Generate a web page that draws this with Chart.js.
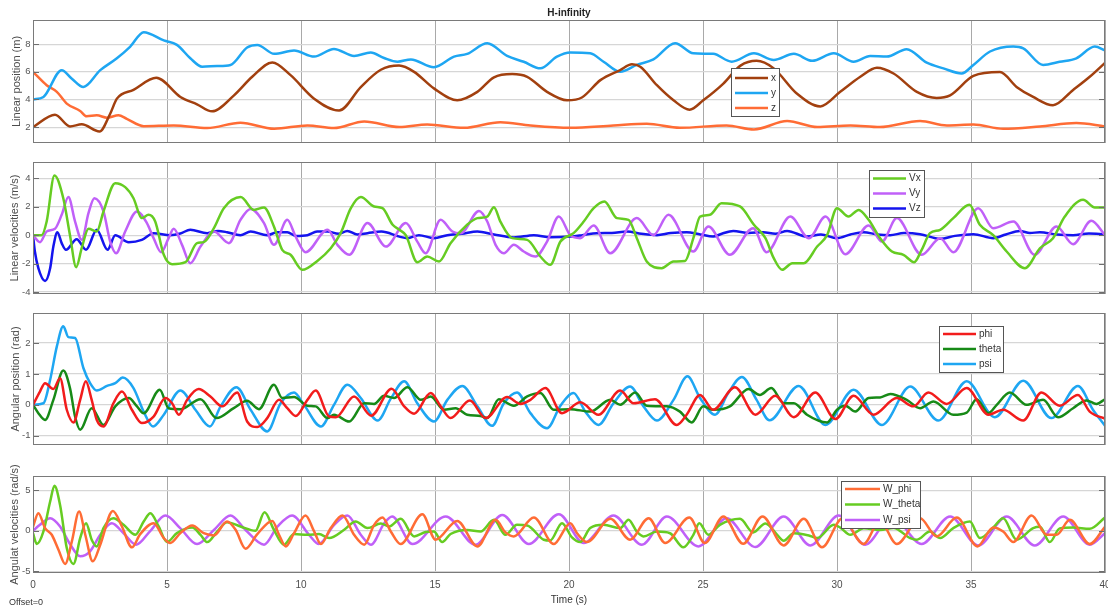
<!DOCTYPE html>
<html><head><meta charset="utf-8">
<script src="https://cdn.jsdelivr.net/npm/chart.js@4.4.1/dist/chart.umd.min.js"></script>
<style>
html,body{margin:0;padding:0;background:#fff;}
#wrap{position:relative;width:1108px;height:610px;overflow:hidden;font-family:"Liberation Sans",Arial,Helvetica,sans-serif;}
#wrap canvas{position:absolute;left:0;top:0;width:1108px;height:610px;}
#title{position:absolute;top:7px;left:0;width:1138px;text-align:center;font-weight:bold;font-size:10px;line-height:12px;color:#222;}
#offset{position:absolute;left:9px;top:597px;font-size:9px;line-height:11px;color:#333;}
</style></head>
<body><div id="wrap">
<canvas id="c1" width="1108" height="610"></canvas>
<canvas id="c2" width="1108" height="610"></canvas>
<canvas id="c3" width="1108" height="610"></canvas>
<canvas id="c4" width="1108" height="610"></canvas>
<div id="title">H-infinity</div>
<div id="offset">Offset=0</div>
</div>
<script>
// ---------- tick labels ----------
const T_TICKS = [0,5,10,15,20,25,30,35,40];
const Y1_TICKS = [2,4,6,8];
const Y2_TICKS = [-4,-2,0,2,4];
const Y3_TICKS = [-1,0,1,2];
const Y4_TICKS = [-5,0,5];

// ---------- panel 1: linear position (t, value) ----------
const posX = [[0,2.0],[0.82,2.9],[1.38,2.05],[1.82,2.2],[2.48,1.68],[2.88,2.97],[3.13,4.06],[3.75,4.7],[4.6,5.57],[5.5,4.18],[6.12,3.65],[6.68,3.14],[7.5,4.3],[8.18,5.64],[8.93,6.68],[9.61,5.76],[10.49,4.06],[11.42,3.2],[12.23,4.9],[12.98,6.15],[13.66,6.45],[14.22,6.0],[14.96,4.8],[15.83,3.94],[16.58,4.55],[17.2,5.6],[17.88,5.84],[18.44,5.64],[19.18,4.55],[19.93,3.94],[20.48,4.14],[21.17,5.4],[21.91,6.13],[22.35,6.54],[22.66,6.37],[23.28,5.03],[23.9,3.94],[24.5,3.26],[25.01,3.94],[25.76,5.15],[26.4,6.45],[27.0,6.8],[27.64,6.25],[28.5,4.43],[29.38,3.5],[30.12,4.55],[30.87,5.64],[31.49,6.3],[32.11,5.88],[32.98,4.55],[33.72,4.11],[34.22,4.3],[35.09,5.7],[36.08,5.98],[36.7,4.91],[37.32,4.18],[38.06,3.58],[38.8,4.67],[39.43,5.64],[40,6.65]];
const posY = [[0,4.0],[0.39,4.18],[1.07,6.12],[1.45,5.5],[1.88,4.9],[2.51,6.12],[3.13,6.98],[3.63,7.83],[4.13,8.87],[4.88,8.27],[5.37,7.95],[5.87,6.98],[6.31,6.37],[6.87,6.42],[7.37,6.5],[7.99,7.76],[8.37,7.95],[9.0,7.3],[9.74,7.54],[10.49,7.1],[11.23,7.66],[11.98,7.15],[12.6,7.4],[13.1,7.0],[13.6,6.73],[14.1,6.9],[14.96,6.33],[15.71,7.1],[16.2,7.3],[16.95,8.07],[17.69,7.15],[18.31,6.73],[18.93,6.25],[19.55,7.1],[20.05,7.4],[20.79,7.34],[21.29,6.73],[21.91,6.0],[22.53,6.5],[23.15,6.9],[23.96,8.07],[24.64,7.34],[25.38,7.3],[26.07,6.73],[26.9,7.34],[27.64,6.86],[28.39,7.3],[29.07,6.8],[29.88,7.34],[30.62,6.73],[31.24,7.15],[31.86,7.1],[32.6,7.64],[33.35,6.66],[33.97,6.25],[34.65,5.88],[35.09,6.5],[35.71,7.47],[36.58,7.83],[36.95,7.7],[37.69,6.5],[38.31,6.73],[38.93,6.98],[39.62,7.83],[40,7.55]];
const posZ = [[0,6.0],[0.51,5.03],[0.89,4.55],[1.26,3.7],[1.76,3.17],[2.0,2.78],[2.38,2.85],[2.76,2.68],[3.19,2.85],[3.5,2.6],[4.13,2.07],[5.25,2.12],[6.5,1.93],[7.74,2.32],[9.0,1.88],[10.24,2.12],[11.23,1.93],[12.36,2.41],[13.67,2.0],[14.71,2.19],[16.08,1.95],[17.44,2.36],[18.56,2.12],[20.05,1.95],[21.66,2.12],[22.9,2.24],[24.14,1.95],[25.88,2.12],[26.9,1.83],[28.14,2.44],[29.26,2.0],[30.5,2.12],[31.6,2.0],[33.1,2.44],[34.1,2.12],[35.09,2.19],[36.2,1.88],[37.57,2.05],[38.93,2.29],[40,2.05]];

// ---------- panel 2: linear velocities ----------
const velX = [[0,0],[0.32,0],[0.51,0.96],[0.8,4.2],[1.13,2.6],[1.38,0],[1.61,-2.25],[1.82,-0.9],[2.07,0.45],[2.38,0.26],[2.63,1.67],[3.07,3.66],[3.44,3.38],[3.75,2.6],[4.06,1.2],[4.31,1.43],[4.56,0.96],[4.88,-1.38],[5.19,-2.04],[5.69,-1.9],[6.12,-0.56],[6.37,-0.49],[6.75,0.49],[7.12,1.9],[7.75,2.68],[8.24,1.78],[8.62,1.95],[8.99,0.61],[9.3,-1.03],[9.61,-1.38],[10.05,-2.44],[10.61,-1.81],[11.11,-0.92],[11.48,0.14],[11.86,1.9],[12.23,2.68],[12.73,2.02],[13.04,1.9],[13.42,0.73],[13.67,0.38],[13.91,0],[14.34,-1.9],[14.71,-1.5],[15.15,-1.85],[15.58,-0.56],[16.2,0.73],[16.58,1.2],[16.95,1.31],[17.2,1.97],[17.44,0.96],[17.88,-0.21],[18.44,-0.33],[18.93,-1.5],[19.3,-2.09],[19.68,-0.45],[20.17,0.14],[20.55,0.96],[20.92,1.9],[21.32,2.37],[21.79,1.2],[22.22,1.08],[22.53,-0.21],[22.9,-1.85],[23.46,-2.32],[23.9,-1.85],[24.33,-1.81],[24.64,-0.21],[24.89,1.31],[25.26,1.43],[25.69,2.25],[26.38,2.02],[26.9,0.73],[27.33,-0.21],[27.64,-1.62],[27.95,-2.44],[28.33,-1.97],[28.76,-1.97],[29.26,-0.8],[29.63,0],[30.0,1.9],[30.43,1.31],[30.81,1.78],[31.18,1.08],[31.61,-0.21],[32.05,-1.15],[32.48,-1.38],[32.88,-1.9],[33.16,-1.03],[33.47,0.14],[33.85,0.38],[34.34,1.2],[34.94,2.14],[35.33,0.73],[35.83,0],[36.33,-1.15],[37.01,-2.32],[37.57,-0.92],[38.06,-0.21],[38.5,1.31],[39.18,2.49],[39.62,1.95],[40,1.95]];
const velY = [[0,0],[0.26,-0.49],[0.51,0.26],[0.82,0.45],[1.07,1.43],[1.32,2.68],[1.57,0.96],[1.82,-0.33],[2.07,1.55],[2.29,2.6],[2.63,1.67],[2.88,-0.45],[3.1,-1.27],[3.44,0.26],[3.88,1.67],[4.25,0.85],[4.5,-0.21],[4.78,-1.2],[5.06,-0.21],[5.25,0.45],[5.56,-0.68],[5.87,-1.97],[6.25,-0.8],[6.75,0.26],[7.31,-0.56],[7.74,1.08],[8.12,1.85],[8.62,0.85],[8.99,-0.68],[9.49,1.08],[9.8,-0.1],[10.17,-1.2],[10.99,0.38],[11.36,-0.68],[11.8,-1.38],[12.48,0.85],[13.17,-0.8],[13.91,0.85],[14.34,-0.45],[14.65,-1.27],[15.21,1.08],[15.65,0.26],[15.96,0.14],[16.64,1.71],[16.95,0.96],[17.26,-0.68],[17.57,-1.27],[17.94,-0.68],[18.31,-1.15],[18.75,-1.5],[19.18,-0.45],[19.62,1.31],[20.05,0],[20.42,-0.21],[20.92,0.68],[21.54,-1.27],[22.53,1.2],[23.15,0],[23.71,1.43],[24.64,-1.15],[25.2,0.61],[26.0,-1.38],[26.87,0.49],[27.37,-1.2],[28.26,1.31],[28.95,-0.21],[29.57,1.31],[30.31,-1.34],[31.18,0.68],[31.68,-0.45],[32.23,1.2],[33.16,-1.38],[33.85,-0.21],[34.34,-1.2],[35.27,1.9],[35.83,0.49],[36.58,0.96],[37.38,-1.38],[38.19,0.61],[38.81,-0.63],[39.49,1.01],[40,0]];
const velZ = [[0,0],[0.07,-1.15],[0.2,-2.32],[0.45,-3.22],[0.64,-2.32],[0.76,-0.8],[0.91,0.21],[1.07,-0.56],[1.23,-1.03],[1.63,-0.28],[1.98,-1.03],[2.38,0.38],[2.78,-1.03],[3.07,0],[3.57,-0.49],[4.06,-0.33],[4.5,0.14],[5.12,0],[5.5,0.12],[5.87,0.38],[6.5,0.14],[6.9,0.3],[7.24,0.21],[7.74,0],[8.12,0.26],[8.74,0],[9.1,0.2],[9.49,0.21],[9.8,-0.05],[10.24,0],[10.6,0.25],[10.99,0.26],[11.4,0.1],[11.73,0.3],[12.1,0.05],[12.48,0.14],[13.0,0.25],[13.67,-0.1],[13.97,-0.21],[14.4,0.0],[14.96,-0.21],[15.46,0],[16.0,0.1],[16.58,0.26],[17.2,0.05],[17.94,-0.16],[18.69,0],[19.3,-0.15],[20.05,-0.1],[20.5,0.0],[21.04,0.14],[21.6,0.15],[22.16,0.26],[22.7,0.1],[23.28,0],[23.8,0.15],[24.39,0.21],[24.9,0.05],[25.38,-0.1],[25.7,0.1],[26.13,0.3],[26.7,0.15],[27.25,0.21],[27.7,0.1],[28.14,0.3],[28.88,-0.1],[29.4,0.05],[30.0,-0.21],[30.5,0.05],[30.99,0.21],[31.5,0.05],[31.98,0],[32.5,0.15],[33.1,0.07],[33.85,-0.26],[34.4,-0.05],[35.09,0.07],[35.83,-0.21],[36.3,0.05],[36.82,0.3],[37.2,0.15],[37.57,0.21],[38.2,0.05],[38.81,0],[39.4,0.12],[40,0.07]];

// ---------- panel 3: angular position ----------
const angPhi = [[0,0],[0.26,0.43],[0.45,0.7],[0.76,0.51],[1.01,0.86],[1.26,-0.16],[1.51,-0.57],[1.76,0.16],[1.97,0.76],[2.19,0.16],[2.38,-0.49],[2.63,-0.7],[3.0,0.05],[3.32,0.43],[3.69,-0.16],[4.06,-0.59],[4.5,-0.38],[4.94,0.22],[5.19,0.05],[5.44,-0.32],[5.75,0.16],[6.18,0.51],[6.62,0.27],[7.06,-0.05],[7.62,0.4],[7.99,-0.54],[8.37,-0.72],[8.74,-0.43],[9.18,0.16],[9.49,-0.11],[9.8,-0.36],[10.24,0.16],[10.55,0.46],[11.05,-0.38],[11.3,-0.4],[11.98,0.27],[12.62,-0.35],[13.38,0.52],[13.85,-0.05],[14.22,-0.29],[14.84,0.38],[15.21,-0.05],[15.58,-0.43],[16.3,0.14],[16.89,-0.43],[17.69,0.25],[18.19,0.03],[18.56,0.16],[19.12,0.54],[19.74,-0.27],[20.42,0.08],[21.1,-0.32],[21.91,0.46],[22.41,0.05],[23.21,0.18],[24.02,-0.65],[24.39,-0.32],[24.89,0.32],[25.38,-0.16],[26.19,0.57],[26.96,-0.32],[27.7,0.29],[28.39,-0.4],[29.19,0.4],[29.94,-0.46],[30.62,0.29],[31.36,-0.32],[32.23,0.22],[32.85,-0.05],[33.41,0.4],[34.09,0.03],[34.84,0.54],[35.65,-0.32],[36.2,-0.16],[36.95,-0.51],[37.63,0.4],[38.31,-0.03],[38.99,0.32],[39.43,-0.22],[40,-0.45]];
const angTheta = [[0,0],[0.2,-0.27],[0.45,-0.49],[0.76,0.16],[1.13,1.11],[1.38,0.54],[1.57,-0.38],[1.76,-0.81],[2.19,-0.11],[2.63,-0.65],[3.07,-0.05],[3.57,0.22],[3.88,-0.05],[4.13,-0.27],[4.73,0.49],[5.06,-0.11],[5.5,-0.14],[6.25,0.18],[6.85,-0.43],[7.49,-0.11],[7.99,0.13],[8.43,-0.14],[8.99,0.65],[9.3,0.22],[9.74,0.25],[10.24,-0.03],[10.55,-0.05],[10.99,-0.43],[11.23,-0.32],[11.8,-0.54],[12.36,0.05],[12.73,0.03],[13.1,0.29],[13.47,0.22],[13.97,0.57],[14.47,0.16],[14.84,0.27],[15.33,-0.16],[15.77,-0.11],[16.2,-0.32],[16.7,-0.36],[16.95,-0.43],[17.38,0.18],[17.94,-0.03],[18.44,0.27],[18.93,0.38],[19.43,-0.16],[20.05,-0.14],[20.79,-0.22],[21.54,0.16],[21.91,0.0],[22.47,0.4],[22.9,-0.03],[23.65,-0.05],[24.14,-0.22],[24.58,-0.57],[25.01,-0.05],[25.38,-0.16],[26.0,-0.05],[26.7,0.51],[27.12,0.32],[27.55,0.54],[28.01,0.05],[28.39,0.05],[28.88,-0.32],[29.63,-0.57],[30.0,-0.16],[30.31,-0.03],[30.68,-0.22],[31.18,0.22],[31.61,0.24],[31.99,0.35],[32.6,0.16],[33.1,-0.11],[33.6,0.11],[34.34,-0.32],[34.84,-0.25],[35.21,0.18],[35.65,-0.27],[35.96,0.0],[36.45,0.4],[37.07,0.0],[37.69,0.16],[38.25,-0.4],[38.81,-0.11],[39.31,0.14],[39.68,0.03],[40,0.18]];
const angPsi = [[0,0],[0.39,0.05],[0.64,0.81],[0.89,1.89],[1.13,2.54],[1.32,2.19],[1.57,2.16],[1.88,1.19],[2.13,0.7],[2.38,0.46],[2.76,0.61],[3.07,0.7],[3.35,0.88],[3.75,0.54],[4.13,-0.22],[4.48,-0.7],[4.88,-0.32],[5.5,0.46],[6.06,-0.16],[6.6,-0.7],[7.0,-0.05],[7.59,0.57],[8.12,-0.16],[8.74,-0.86],[9.24,0.05],[9.74,0.4],[10.11,0.0],[10.74,-0.7],[11.23,0.0],[11.73,0.65],[12.23,0.22],[12.86,-0.51],[13.35,0.2],[13.85,0.76],[14.34,0.05],[14.96,-0.54],[15.46,0.16],[16.02,0.61],[16.58,-0.05],[17.13,-0.68],[17.57,0.05],[18.06,0.4],[18.56,-0.27],[19.18,-0.76],[19.68,-0.03],[20.17,0.38],[20.61,-0.22],[21.1,-0.65],[21.66,0.05],[22.28,0.59],[22.78,-0.05],[23.28,-0.51],[23.9,0.16],[24.42,0.92],[24.89,0.22],[25.45,-0.32],[25.94,0.38],[26.45,0.9],[27.0,0.16],[27.48,-0.5],[28.57,0.61],[29.57,-0.65],[30.62,0.49],[31.68,-0.65],[32.73,0.59],[33.78,-0.51],[34.84,0.76],[35.89,-0.4],[36.95,0.78],[38.0,-0.43],[38.99,0.61],[39.55,-0.16],[40,-0.68]];

// ---------- panel 4: angular velocities ----------
const wPhi = [[0,0.5],[0.2,2.16],[0.45,0.33],[0.7,-0.49],[0.95,-2.33],[1.2,-4.08],[1.45,-1.3],[1.72,2.37],[1.95,-0.49],[2.23,-3.76],[2.51,-1.71],[2.98,2.45],[3.32,0.53],[3.69,-2.04],[4.0,-0.41],[4.5,0.94],[4.88,-0.9],[5.12,-1.51],[5.5,-0.29],[5.94,0.65],[6.37,-0.29],[6.75,-0.57],[7.24,1.14],[7.56,0.12],[7.93,-2.2],[8.37,-0.41],[8.93,1.22],[9.18,-0.49],[9.43,-1.92],[9.74,-0.29],[10.17,1.88],[10.49,-0.08],[10.74,-1.63],[11.11,0.33],[11.55,1.88],[11.98,-0.49],[12.36,-1.71],[12.73,0.73],[13.04,1.63],[13.35,-0.08],[13.72,-1.63],[14.53,2.04],[15.02,-1.1],[15.83,1.22],[16.58,-1.92],[17.26,1.35],[17.63,-0.2],[17.94,-0.69],[18.69,1.63],[19.43,-1.63],[20.05,0.94],[20.3,-0.3],[20.67,-1.39],[21.54,1.47],[22.28,-1.1],[22.97,1.55],[23.59,-1.51],[24.49,1.63],[25.07,-1.51],[25.76,1.76],[26.5,-1.6],[27.22,1.76],[28.01,-1.8],[28.76,1.47],[29.44,-2.04],[30.2,1.5],[30.99,-1.63],[31.6,1.2],[32.23,-1.63],[33.1,1.55],[33.72,-0.69],[34.47,1.63],[35.24,-1.92],[35.83,0.41],[36.2,-0.1],[36.58,-1.39],[37.26,1.88],[37.82,-0.49],[38.19,-0.5],[38.69,1.35],[39.43,-1.63],[40,0.5]];
const wTheta = [[0,-0.3],[0.14,-1.63],[0.39,-0.08],[0.64,3.6],[0.8,5.55],[1.01,3.18],[1.26,-2.12],[1.51,-4.08],[1.76,-0.9],[1.98,0.94],[2.19,-1.1],[2.38,-1.92],[2.63,0.33],[3.0,1.55],[3.38,0.73],[3.82,-0.49],[4.13,1.14],[4.38,2.16],[4.69,0.53],[5.0,-1.39],[5.37,-0.29],[5.94,0.41],[6.25,-0.49],[6.5,-1.39],[6.87,-0.1],[7.24,1.06],[7.74,0.53],[8.3,0.0],[8.64,2.29],[8.99,0.12],[9.36,-1.71],[9.74,-0.4],[10.24,-0.49],[10.67,-0.41],[11.05,-0.9],[11.61,0.12],[12.04,1.14],[12.48,0.33],[12.98,0.9],[13.29,0.53],[13.72,1.47],[14.22,-0.69],[14.65,-0.16],[14.96,-0.1],[15.27,-1.39],[15.58,-0.4],[16.2,0.1],[16.7,-0.1],[17.2,1.35],[17.63,-0.5],[18.06,0.73],[18.44,0.65],[19.06,-1.1],[19.3,-1.2],[19.74,0.94],[20.11,-0.82],[20.42,-1.39],[20.79,0.33],[21.29,0.73],[21.91,0.33],[22.22,1.35],[22.53,-0.1],[22.78,-0.69],[23.28,-0.1],[23.77,-0.3],[24.27,-2.04],[24.64,-0.5],[24.86,0.94],[25.2,-0.49],[25.63,0.73],[26.38,1.47],[26.87,-0.2],[27.33,0.9],[27.77,-0.5],[28.01,-1.22],[28.39,-0.29],[28.95,-0.57],[29.26,-0.9],[29.88,0.73],[30.12,0.4],[30.5,-0.49],[31.0,0.3],[31.61,0.1],[32.11,0.35],[32.73,-0.9],[32.98,-1.1],[33.47,-0.1],[33.85,-0.9],[34.34,0.33],[34.96,1.14],[35.33,-0.9],[35.83,0.4],[36.2,1.55],[36.7,-1.1],[37.32,0.33],[37.57,0.5],[37.94,-1.39],[38.31,0.3],[38.81,0.41],[39.43,0.24],[40,1.63]];
const wPsi = [[0,0],[0.26,0.73],[0.64,1.55],[1.01,0.53],[1.38,-1.63],[1.76,-3.14],[2.13,-2.53],[2.51,-0.49],[2.94,0.94],[3.38,-0.3],[3.85,-1.71],[4.38,0.0],[4.94,1.88],[5.5,0.3],[6.12,-1.63],[6.75,0.1],[7.37,1.88],[7.93,0.1],[8.62,-1.71],[9.12,0.5],[9.67,1.88],[10.3,-0.49],[10.67,-1.63],[11.23,0.7],[11.73,1.88],[12.23,-0.49],[12.61,-1.71],[13.1,0.9],[13.4,1.76],[14.16,-1.63],[15.4,1.76],[16.51,-1.71],[17.51,1.96],[18.5,-1.63],[19.62,2.04],[20.55,-1.51],[21.66,1.88],[22.72,-1.71],[23.65,1.76],[24.83,-1.92],[25.88,1.55],[26.95,-2.0],[28.01,1.76],[29.01,-1.8],[30.06,1.88],[31.05,-1.71],[32.05,1.76],[33.16,-1.63],[34.22,1.76],[35.27,-1.8],[36.33,1.76],[37.38,-1.8],[38.44,1.76],[39.43,-1.71],[40,-0.29]];

// ---------- rendering ----------
Chart.defaults.font.family = '"Liberation Sans", Arial, Helvetica, sans-serif';
const pts = a => a.map(p => ({x: p[0], y: p[1]}));

const framePlugin = {
  id: 'frame',
  afterDatasetsDraw(chart, args, o) {
    const ctx = chart.ctx, a = chart.chartArea, ys = chart.scales.y;
    ctx.save();
    ctx.strokeStyle = '#6e6e6e'; ctx.lineWidth = 1;
    ys.ticks.forEach(t => {
      const py = Math.round(ys.getPixelForValue(t.value)) + 0.5;
      ctx.beginPath(); ctx.moveTo(a.right - 6, py); ctx.lineTo(a.right, py); ctx.stroke();
      ctx.beginPath(); ctx.moveTo(a.left, py); ctx.lineTo(a.left + 6, py); ctx.stroke();
    });
    ctx.strokeStyle = '#7a7a7a';
    ctx.strokeRect(Math.round(a.left) + 0.5, Math.round(a.top) + 0.5, Math.round(a.right - a.left) - 1, Math.round(a.bottom - a.top) - 1);
    // legend box
    const lg = o.legend;
    ctx.fillStyle = '#fff'; ctx.fillRect(lg.x, lg.y, lg.w, lg.h);
    ctx.strokeStyle = '#555'; ctx.lineWidth = 1;
    ctx.strokeRect(lg.x + 0.5, lg.y + 0.5, lg.w, lg.h);
    ctx.font = '10px "Liberation Sans", Arial, sans-serif';
    ctx.textBaseline = 'middle'; ctx.textAlign = 'left';
    chart.data.datasets.forEach((ds, i) => {
      const yy = lg.y + lg.first + i * lg.step;
      ctx.strokeStyle = ds.borderColor; ctx.lineWidth = 2.6;
      ctx.beginPath(); ctx.moveTo(lg.x + 4, yy); ctx.lineTo(lg.x + 4 + lg.line, yy); ctx.stroke();
      ctx.fillStyle = '#333';
      ctx.fillText(ds.label, lg.x + 7 + lg.line, yy);
    });
    // y-axis label
    ctx.save();
    ctx.translate(o.ylx, (a.top + a.bottom) / 2);
    ctx.rotate(-Math.PI / 2);
    ctx.fillStyle = '#4d4d4d'; ctx.textAlign = 'center';
    ctx.font = '11px "Liberation Sans", Arial, sans-serif';
    ctx.fillText(o.ylabel, 0, 0);
    ctx.restore();
    ctx.restore();
  }
};

function makeChart(id, cfg) {
  const xh = cfg.showX ? 37 : 0;
  return new Chart(document.getElementById(id), {
    type: 'line',
    data: { datasets: cfg.series.map(s => ({
      label: s.label, data: pts(s.data), borderColor: s.color, backgroundColor: s.color,
      borderWidth: 2.5, pointRadius: 0, cubicInterpolationMode: 'monotone', fill: false
    })) },
    options: {
      responsive: false, animation: false, events: [],
      layout: { padding: { left: 0, right: 3, top: cfg.top, bottom: 610 - cfg.bottom - xh } },
      plugins: { legend: { display: false }, tooltip: { enabled: false }, frame: { legend: cfg.legend, ylabel: cfg.ylabel, ylx: cfg.ylx } },
      scales: {
        x: {
          type: 'linear', min: 0, max: 40,
          afterBuildTicks: s => { s.ticks = T_TICKS.map(v => ({ value: v })); },
          afterFit: s => { s.height = xh; s.paddingLeft = 0; s.paddingRight = 0; },
          grid: { color: '#a9a9a9', lineWidth: 1, drawTicks: false },
          border: { display: false },
          ticks: { display: cfg.showX, color: '#4d4d4d', font: { size: 10 }, padding: 6, maxRotation: 0, autoSkip: false },
          title: { display: cfg.showX, text: 'Time (s)', color: '#333', font: { size: 10 }, padding: { top: 0, bottom: 4 } }
        },
        y: {
          type: 'linear', min: cfg.min, max: cfg.max,
          afterBuildTicks: s => { s.ticks = cfg.ticks.map(v => ({ value: v })); },
          afterFit: s => { s.width = 33; s.paddingTop = 0; s.paddingBottom = 0; },
          grid: { color: '#d6d6d6', lineWidth: 1.2, drawTicks: false },
          border: { display: false },
          ticks: { color: '#555', font: { size: 9.5 }, padding: 2.5, autoSkip: false }
        }
      }
    },
    plugins: [framePlugin]
  });
}

makeChart('c1', { top: 20, bottom: 143, min: 0.85, max: 9.75, ticks: Y1_TICKS, showX: false,
  ylabel: 'Linear position (m)', ylx: 17,
  legend: { x: 731, y: 68, w: 48, h: 48, first: 10, step: 15, line: 33 },
  series: [ { label: 'x', data: posX, color: '#a2400f' }, { label: 'y', data: posY, color: '#1ea6f2' }, { label: 'z', data: posZ, color: '#ff6c35' } ] });

makeChart('c2', { top: 162, bottom: 294, min: -4.14, max: 5.15, ticks: Y2_TICKS, showX: false,
  ylabel: 'Linear velocities (m/s)', ylx: 15,
  legend: { x: 869, y: 170, w: 55, h: 47, first: 8.5, step: 15, line: 33 },
  series: [ { label: 'Vx', data: velX, color: '#66cc22' }, { label: 'Vy', data: velY, color: '#c060f8' }, { label: 'Vz', data: velZ, color: '#1414ee' } ] });

makeChart('c3', { top: 313, bottom: 445, min: -1.3, max: 2.97, ticks: Y3_TICKS, showX: false,
  ylabel: 'Angular position (rad)', ylx: 16,
  legend: { x: 939, y: 326, w: 64, h: 46, first: 8, step: 15, line: 33 },
  series: [ { label: 'phi', data: angPhi, color: '#f21c1c' }, { label: 'theta', data: angTheta, color: '#178a17' }, { label: 'psi', data: angPsi, color: '#1ea6f2' } ] });

makeChart('c4', { top: 476, bottom: 573, min: -5.2, max: 6.75, ticks: Y4_TICKS, showX: true,
  ylabel: 'Angulat velocities (rad/s)', ylx: 15,
  legend: { x: 841, y: 481, w: 79, h: 47, first: 8, step: 15.5, line: 35 },
  series: [ { label: 'W_phi', data: wPhi, color: '#ff6c35' }, { label: 'W_theta', data: wTheta, color: '#66cc22' }, { label: 'W_psi', data: wPsi, color: '#c060f8' } ] });
</script>
</body></html>
